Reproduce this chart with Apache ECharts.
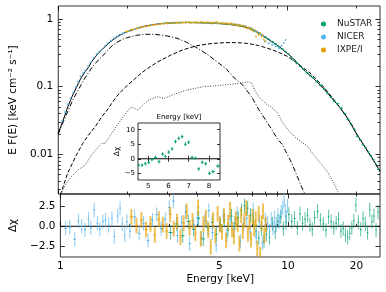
<!DOCTYPE html>
<html><head><meta charset="utf-8">
<script src="https://cdn.jsdelivr.net/npm/echarts@6/dist/echarts.min.js"></script>
<style>html,body{margin:0;padding:0;background:#fff}#c{width:386px;height:292px}</style>
</head><body><div id="c"></div>
<script>
// ---------------- DATA ----------------
const X_MIN = 1, X_MAX = 25.4;
const Y_MIN = 0.00259, Y_MAX = 1.557;
const RES_MIN = -3.9, RES_MAX = 4.1;
const INS_XMIN = 4.5, INS_XMAX = 8.55, INS_YMIN = -7.3, INS_YMAX = 12.3;

const xMajorTicks = [1, 10];
const xMinorTicks = [2, 3, 4, 5, 6, 7, 8, 9, 20];
const xTickLabels = [1, 5, 10, 20];
const yMajorTicks = [0.01, 0.1, 1];
const yMinorTicks = [0.003,0.004,0.005,0.006,0.007,0.008,0.009,0.02,0.03,0.04,0.05,0.06,0.07,0.08,0.09,0.2,0.3,0.4,0.5,0.6,0.7,0.8,0.9];
const resTicks = [-2.5, 0, 2.5];
const insXTicks = [5, 6, 7, 8];
const insYTicks = [-5, 0, 5, 10];

// model components (E keV, E F(E))
const totalModel = [[1.0,0.0205],[1.05,0.032],[1.1,0.05],[1.15,0.072],[1.2,0.097],[1.25,0.13],[1.3,0.16],[1.35,0.19],[1.4,0.235],[1.45,0.275],[1.5,0.315],[1.6,0.39],[1.7,0.47],[1.8,0.54],[1.9,0.6],[2.0,0.65],[2.2,0.725],[2.4,0.785],[2.6,0.825],[2.8,0.852],[3.0,0.87],[3.3,0.882],[3.6,0.888],[4.0,0.885],[4.5,0.875],[5.0,0.86],[5.5,0.84],[6.0,0.81],[6.5,0.765],[7.0,0.70],[7.5,0.62],[8.0,0.54],[8.5,0.47],[9.0,0.415],[9.5,0.36],[10,0.31],[10.5,0.27],[11,0.228],[12,0.168],[13,0.133],[14,0.104],[15,0.08],[16,0.062],[17,0.049],[18,0.0375],[19,0.028],[20,0.0205],[21,0.0158],[22,0.0124],[23,0.0098],[24,0.0078],[25,0.0062],[25.4,0.0057]];
const diskModel = [[1.0,0.02],[1.05,0.03],[1.1,0.043],[1.156,0.063],[1.2,0.08],[1.3,0.13],[1.4,0.19],[1.5,0.25],[1.6,0.31],[1.7,0.39],[1.8,0.45],[1.9,0.5],[2.0,0.53],[2.2,0.575],[2.4,0.594],[2.6,0.595],[2.8,0.58],[3.0,0.56],[3.3,0.52],[3.6,0.46],[4.0,0.38],[4.2,0.345],[4.6,0.28],[5.0,0.225],[5.4,0.185],[5.8,0.14],[6.4,0.105],[7.0,0.07],[7.5,0.046],[8.0,0.033],[8.5,0.024],[9.1,0.0165],[9.5,0.014],[10,0.01],[10.5,0.0072],[11,0.0049],[11.5,0.0034],[12,0.0025]];
const comptModel = [[1.02,0.0025],[1.1,0.0053],[1.2,0.0098],[1.28,0.0145],[1.35,0.019],[1.45,0.0256],[1.55,0.036],[1.65,0.047],[1.71,0.0565],[1.8,0.072],[1.9,0.088],[1.975,0.1],[2.1,0.12],[2.25,0.148],[2.4,0.176],[2.7,0.23],[3.1,0.293],[3.5,0.35],[4.0,0.40],[4.5,0.428],[5.0,0.442],[5.5,0.448],[6.0,0.447],[6.5,0.44],[7.0,0.425],[7.5,0.405],[8.0,0.38],[8.5,0.355],[9.0,0.33],[9.5,0.305],[10,0.28],[11,0.225],[12,0.18],[12.7,0.155],[14,0.11],[15,0.084],[16,0.064],[17,0.049],[18,0.037],[19,0.0278],[20,0.0204],[21,0.0157],[22,0.0123],[23,0.0097],[24,0.0077],[25,0.0061],[25.4,0.0056]];
const reflModel = [[1.03,0.0026],[1.08,0.0037],[1.15,0.0048],[1.23,0.006],[1.31,0.0069],[1.41,0.0103],[1.55,0.0145],[1.6,0.0145],[1.71,0.0204],[1.85,0.03],[2.02,0.045],[2.09,0.05],[2.15,0.048],[2.23,0.045],[2.38,0.057],[2.5,0.064],[2.7,0.071],[2.9,0.067],[3.2,0.077],[3.63,0.089],[4.3,0.1],[5.0,0.104],[5.9,0.11],[6.5,0.115],[6.8,0.118],[7.0,0.112],[7.2,0.09],[7.5,0.071],[8.0,0.057],[8.5,0.05],[9.13,0.04],[9.45,0.031],[10.1,0.0228],[10.8,0.018],[12.3,0.013],[13,0.01],[14,0.0073],[15,0.0055],[16,0.0037],[16.8,0.0026]];

// spectra (main panel)
const nicerE = [1.04,1.07,1.10,1.13,1.16,1.19,1.22,1.25,1.28,1.31,1.35,1.39,1.43,1.47,1.51,1.55,1.60,1.65,1.70,1.75,1.80,1.86,1.92,1.98,2.05,2.15,2.25,2.4,2.55,2.7,2.9,3.1,3.35,3.6,3.9,4.2,4.5,4.9,5.3,5.7,6.1,6.5,6.9,7.3,7.7,8.0,8.3,8.6,8.9,9.2,9.45,9.65,9.85];
const nicerF = [0.031,0.042,0.055,0.067,0.081,0.098,0.118,0.142,0.160,0.172,0.200,0.232,0.268,0.302,0.330,0.352,0.400,0.445,0.480,0.520,0.553,0.590,0.615,0.640,0.668,0.705,0.738,0.780,0.815,0.840,0.862,0.878,0.888,0.890,0.888,0.884,0.878,0.868,0.858,0.845,0.825,0.790,0.735,0.660,0.590,0.470,0.440,0.415,0.395,0.370,0.400,0.445,0.490];
const ixpeE = [2.0,2.1,2.2,2.3,2.4,2.5,2.6,2.7,2.8,2.9,3.0,3.1,3.2,3.3,3.4,3.5,3.6,3.7,3.8,3.9,4.0,4.1,4.2,4.3,4.4,4.5,4.6,4.7,4.8,4.9,5.0,5.1,5.2,5.3,5.4,5.5,5.6,5.7,5.8,5.9,6.0,6.1,6.2,6.3,6.4,6.5,6.6,6.7,6.8,6.9,7.0,7.1,7.2,7.3,7.4,7.5,7.6,7.7,7.8,7.9,8.0];
const ixpeF = [0.655,0.70,0.725,0.76,0.78,0.80,0.82,0.83,0.85,0.855,0.87,0.87,0.88,0.885,0.875,0.89,0.885,0.90,0.885,0.89,0.895,0.88,0.90,0.885,0.875,0.895,0.88,0.87,0.885,0.90,0.87,0.865,0.875,0.855,0.87,0.85,0.84,0.86,0.83,0.84,0.82,0.80,0.815,0.79,0.80,0.76,0.77,0.73,0.745,0.70,0.72,0.66,0.69,0.55,0.64,0.58,0.62,0.55,0.58,0.50,0.47];
const nustarE = [3.0,3.2,3.4,3.6,3.8,4.0,4.25,4.5,4.75,5.0,5.25,5.5,5.75,6.0,6.25,6.5,6.75,7.0,7.25,7.5,7.75,8.0,8.3,8.6,8.9,9.2,9.5,9.8,10.1,10.4,10.7,11.0,11.4,11.8,12.2,12.6,13.0,13.5,14.0,14.5,15.0,15.5,16.0,16.6,17.2,17.8,18.4,19.0,19.6,20.2,20.8,21.4,22.0,22.6,23.2,23.8,24.4,25.0];
const nustarF = [0.87,0.88,0.885,0.89,0.885,0.885,0.88,0.875,0.865,0.86,0.85,0.84,0.825,0.81,0.79,0.765,0.74,0.70,0.66,0.62,0.58,0.54,0.50,0.46,0.425,0.39,0.36,0.33,0.305,0.265,0.245,0.222,0.20,0.18,0.16,0.145,0.135,0.118,0.104,0.092,0.08,0.07,0.061,0.056,0.048,0.040,0.033,0.028,0.0235,0.0185,0.0163,0.0140,0.0125,0.0108,0.0095,0.0083,0.0071,0.0060];
const nicerRelErr = 0.035, ixpeRelErr = 0.04, nustarRelErr = 0.035;

// residuals (bottom panel)
const nicerResE = [1.054,1.10,1.156,1.20,1.24,1.283,1.33,1.36,1.408,1.454,1.49,1.537,1.578,1.63,1.686,1.724,1.788,1.83,1.87,1.92,1.96,2.02,2.12,2.22,2.32,2.43,2.54,2.65,2.77,2.89,3.01,3.14,3.27,3.41,3.55,3.7,3.85,4.0,4.16,4.32,4.49,4.66,4.84,5.02,5.2,5.39,5.58,5.78,5.98,6.18,6.39,6.6,6.82,7.04,7.26,7.49,7.72,7.95,8.15,8.3,8.45,8.6,8.75,8.9,9.05,9.2,9.35,9.5,9.62,9.74,9.86,9.97];
const nicerResV = [-0.25,-0.1,-1.65,0.67,0.0,-0.47,0.9,-0.2,2.07,0.38,-0.38,0.59,0.8,0.1,1.0,-1.3,1.3,2.3,0.3,-1.1,0.6,-0.6,1.2,-0.9,0.4,-1.8,0.8,1.5,-0.3,0.9,2.4,3.2,-1.2,0.5,1.8,-2.2,0.2,1.1,-1.5,0.7,2.0,-0.8,-2.4,0.4,1.3,-1.1,0.9,-0.4,1.6,-1.9,0.3,1.0,-0.7,2.1,-1.4,0.6,-2.1,0.8,0.4,-0.6,0.9,-0.2,1.1,0.3,1.4,0.6,1.8,2.3,3.3,2.0,1.1,2.6];
const ixpeResE = [2.05,2.16,2.27,2.38,2.49,2.6,2.71,2.82,2.93,3.04,3.15,3.26,3.37,3.48,3.59,3.7,3.81,3.92,4.03,4.14,4.25,4.36,4.47,4.58,4.69,4.8,4.91,5.02,5.13,5.24,5.35,5.46,5.57,5.68,5.79,5.9,6.01,6.12,6.23,6.34,6.45,6.56,6.67,6.78,6.89,7.0,7.11,7.22,7.33,7.44,7.55,7.66,7.77,7.88,7.99];
const ixpeResV = [1.2,0.1,0.8,-0.4,0.3,-1.1,0.9,0.2,-0.6,1.5,-0.3,0.6,-1.4,0.4,1.9,-0.2,0.7,-0.9,2.4,-1.6,0.3,1.1,-0.5,-2.6,0.8,-1.2,1.6,0.2,-0.7,1.3,-1.8,0.5,2.1,-0.4,-1.3,0.9,0.3,-2.2,1.4,-0.6,0.8,2.3,-1.0,0.5,-1.7,1.2,-0.3,0.9,-2.8,1.6,-3.6,0.4,1.9,-1.2,0.2];
const nustarResE = [3.05,3.25,3.45,3.65,3.85,4.05,4.25,4.45,4.65,4.85,5.05,5.25,5.45,5.65,5.85,6.05,6.25,6.45,6.65,6.85,7.05,7.25,7.45,7.65,7.85,8.05,8.3,8.55,8.8,9.05,9.3,9.55,9.8,10.1,10.4,10.7,11.0,11.3,11.6,11.9,12.2,12.5,12.8,13.1,13.5,13.9,14.3,14.7,15.1,15.5,15.9,16.3,16.7,17.1,17.5,17.9,18.3,18.7,19.1,19.5,19.9,20.4,20.9,21.4,21.9,22.4,22.9,23.4,23.9,24.4,24.9];
const nustarResV = [-0.8,0.3,-1.2,0.6,-0.4,1.0,-1.6,-0.2,0.5,-1.0,0.2,0.8,-0.5,1.3,0.4,1.1,2.0,2.6,2.3,1.4,0.8,-0.6,-1.5,-0.3,-1.9,-1.0,-1.4,0.3,-0.7,0.6,1.2,-0.3,0.5,1.5,0.6,1.0,-0.2,1.6,0.4,0.9,1.4,0.2,-0.4,1.1,1.9,0.8,0.3,-0.5,1.2,0.6,-0.2,0.4,0.9,-0.6,-0.3,-1.1,-1.4,-0.9,-0.2,0.7,2.7,0.5,-0.4,1.0,0.3,-0.8,2.1,0.6,1.3,-0.5,1.8];
const nicerResErr = 0.9, ixpeResErr = 1.0, nustarResErr = 0.9;

// inset residuals (NuSTAR, no line)
const insetE = [4.53,4.70,4.86,5.03,5.19,5.36,5.54,5.72,5.85,6.02,6.18,6.35,6.51,6.68,6.84,7.00,7.17,7.33,7.50,7.67,7.84,8.03,8.20,8.45];
const insetV = [-2.2,-2.2,-1.7,-1.3,-0.3,0.45,-1.0,1.6,0.8,2.3,3.4,5.9,7.0,7.6,5.0,5.7,0.45,0.2,-3.5,-1.2,-1.7,-5.0,-4.4,-2.5];
const insetErr = 0.6;

// ---------------- STYLE ----------------
const C_NUSTAR = '#009E73', C_NICER = '#56B4E9', C_IXPE = '#E69F00';
const FONT = 'DejaVu Sans';

function halfSpan(E, i, f) {
  const p = i > 0 ? E[i-1] : null, n = i < E.length-1 ? E[i+1] : null;
  const dl = p !== null ? E[i]-p : n-E[i];
  const dr = n !== null ? n-E[i] : E[i]-p;
  return [E[i]-dl*f, E[i]+dr*f];
}
function relData(E, F, r, f) {
  return E.map((e,i)=>{ const h = halfSpan(E,i,f); return [e, F[i], h[0], h[1], F[i]*(1-r), F[i]*(1+r)]; });
}
function absData(E, V, err, f) {
  return E.map((e,i)=>{ const h = halfSpan(E,i,f); return [e, V[i], h[0], h[1], V[i]-err, V[i]+err]; });
}
function errRender(color, vOp, vW, hW) {
  return function(params, api) {
    const x = api.value(0), y = api.value(1);
    const c = api.coord([x, y]);
    const a = api.coord([api.value(2), y]), b = api.coord([api.value(3), y]);
    const lo = api.coord([x, api.value(4)]), hi = api.coord([x, api.value(5)]);
    return {type:'group', children:[
      {type:'line', shape:{x1:c[0], y1:lo[1], x2:c[0], y2:hi[1]}, style:{stroke:color, lineWidth:vW, opacity:vOp}},
      {type:'line', shape:{x1:a[0], y1:c[1], x2:b[0], y2:c[1]}, style:{stroke:color, lineWidth:hW}}
    ]};
  };
}
function errSeries(name, color, data, xi, yi, vOp, vW, hW, z) {
  return {type:'custom', name, coordinateSystem:'cartesian2d', xAxisIndex:xi, yAxisIndex:yi,
    renderItem: errRender(color, vOp, vW, hW), data, clip:true, itemStyle:{color}, z: z||3,
    encode:{x:0, y:1}, silent:true};
}
function num(v){ return Number(Number(v).toPrecision(6)); }
const lblStyle = {color:'#000', fontFamily:FONT, fontSize:10.5};
function tickAx(base, ticks, len, labels, labelOpts) {
  return Object.assign({
    axisLine:{show:false}, splitLine:{show:false}, minorTick:{show:false},
    axisTick:{show:true, inside:true, length:len, customValues:ticks, lineStyle:{color:'#000', width:0.8}},
    axisLabel: labels ? Object.assign({show:true, customValues:labels}, labelOpts) : {show:false}
  }, base);
}
const logX = (g, pos, ticks, len, labels, extra) => tickAx(Object.assign({type:'log', logBase:10, gridIndex:g, position:pos, min:X_MIN, max:X_MAX}, extra||{}), ticks, len, labels,
  Object.assign({}, lblStyle, {margin:4, formatter: v => String(num(v))}));

const xAxes = [
  logX(0,'bottom',xMajorTicks,4.5), logX(0,'bottom',xMinorTicks,2.5), logX(0,'top',xMajorTicks,4.5), logX(0,'top',xMinorTicks,2.5),
  logX(1,'bottom',xMajorTicks,4.5,xTickLabels,{name:'Energy [keV]', nameLocation:'middle', nameGap:17, nameTextStyle:{fontFamily:FONT, fontSize:10.5, color:'#000'}}),
  logX(1,'bottom',xMinorTicks,2.5), logX(1,'top',xMajorTicks,4.5), logX(1,'top',xMinorTicks,2.5),
  tickAx({type:'value', gridIndex:2, position:'bottom', min:INS_XMIN, max:INS_XMAX, z:12}, insXTicks, 3, insXTicks,
    {color:'#000', fontFamily:FONT, fontSize:7, margin:3, formatter: v => String(num(v))}),
  tickAx({type:'value', gridIndex:2, position:'top', min:INS_XMIN, max:INS_XMAX, z:12, name:'Energy [keV]', nameLocation:'middle', nameGap:2.5,
    nameTextStyle:{fontFamily:FONT, fontSize:7, color:'#000'}}, insXTicks, 3)
];
const logY = (pos, ticks, len, labels, extra) => tickAx(Object.assign({type:'log', logBase:10, gridIndex:0, position:pos, min:Y_MIN, max:Y_MAX}, extra||{}), ticks, len, labels,
  Object.assign({}, lblStyle, {margin:5, formatter: v => String(num(v))}));
const resFmt = v => { v = num(v); return (v < 0 ? '\u2212' : '') + Math.abs(v).toFixed(1); };
const insFmt = v => { v = num(v); return (v < 0 ? '\u2212' : '') + String(Math.abs(v)); };
const yAxes = [
  logY('left', yMajorTicks, 4.5, yMajorTicks, {name:'E F(E) [keV cm\u207B\u00B2 s\u207B\u00B9]', nameLocation:'middle', nameGap:33, nameRotate:90,
    nameTextStyle:{fontFamily:FONT, fontSize:10.5, color:'#000'}}),
  logY('left', yMinorTicks, 2.5), logY('right', yMajorTicks, 4.5), logY('right', yMinorTicks, 2.5),
  tickAx({type:'value', gridIndex:1, position:'left', min:RES_MIN, max:RES_MAX, name:'\u0394\u03C7', nameLocation:'middle', nameGap:33, nameRotate:90,
    nameTextStyle:{fontFamily:FONT, fontSize:10.5, color:'#000'}}, resTicks, 4.5, resTicks, Object.assign({}, lblStyle, {margin:5, formatter:resFmt})),
  tickAx({type:'value', gridIndex:1, position:'right', min:RES_MIN, max:RES_MAX}, resTicks, 4.5),
  tickAx({type:'value', gridIndex:2, position:'left', min:INS_YMIN, max:INS_YMAX, z:12, name:'\u0394\u03C7', nameLocation:'middle', nameGap:16, nameRotate:90,
    nameTextStyle:{fontFamily:FONT, fontSize:7.5, color:'#000'}}, insYTicks, 3, insYTicks, {color:'#000', fontFamily:FONT, fontSize:7, margin:3, formatter:insFmt}),
  tickAx({type:'value', gridIndex:2, position:'right', min:INS_YMIN, max:INS_YMAX, z:12}, insYTicks, 3)
];

function modelLine(name, data, type, color) {
  return {type:'line', name, xAxisIndex:0, yAxisIndex:0, data, showSymbol:false, symbol:'none', silent:true,
    lineStyle:{color, width:1, type}, z:2, clip:true};
}

const series = [
  modelLine('total', totalModel, 'solid', '#000'),
  modelLine('disk', diskModel, [5,2,1,2], '#000'),
  modelLine('compt', comptModel, [4,2], '#000'),
  modelLine('refl', reflModel, [1,1.5], '#444'),
  errSeries('NuSTAR', C_NUSTAR, relData(nustarE, nustarF, nustarRelErr, 0.45), 0, 0, 0.85, 1, 1),
  errSeries('NICER', C_NICER, relData(nicerE, nicerF, nicerRelErr, 0.35), 0, 0, 0.85, 1, 1),
  errSeries('IXPE/I', C_IXPE, relData(ixpeE, ixpeF, ixpeRelErr, 0.45), 0, 0, 0.85, 1, 1),
  // residual panel
  {type:'line', xAxisIndex:4, yAxisIndex:4, data:[[X_MIN,0],[X_MAX,0]], showSymbol:false, symbol:'none', silent:true, lineStyle:{color:'#000', width:1}, z:2},
  errSeries('NuSTAR', C_NUSTAR, absData(nustarResE, nustarResV, nustarResErr, 0.3), 4, 4, 0.65, 1, 1),
  errSeries('NICER', C_NICER, absData(nicerResE, nicerResV, nicerResErr, 0.3), 4, 4, 0.7, 1, 1),
  errSeries('IXPE/I', C_IXPE, absData(ixpeResE, ixpeResV, ixpeResErr, 0.3), 4, 4, 0.65, 2, 1),
  // inset
  {type:'line', xAxisIndex:8, yAxisIndex:6, data:[[INS_XMIN,0],[INS_XMAX,0]], showSymbol:false, symbol:'none', silent:true, lineStyle:{color:'#000', width:1}, z:12},
  errSeries('NuSTAR', C_NUSTAR, absData(insetE, insetV, insetErr, 0.4), 8, 6, 1, 1, 1, 13)
];

const option = {
  animation:false,
  backgroundColor:'#fff',
  textStyle:{fontFamily:FONT},
  grid:[
    {left:52, top:6, width:328, height:188, show:true, borderColor:'#000', borderWidth:0.8, backgroundColor:'transparent'},
    {left:52, top:194, width:328, height:63, show:true, borderColor:'#000', borderWidth:0.8, backgroundColor:'transparent'},
    {left:138, top:123, width:82, height:57, show:true, borderColor:'#000', borderWidth:0.8, backgroundColor:'#fff', z:10}
  ],
  legend:{
    orient:'vertical', left:316, top:13, itemWidth:5, itemHeight:5, itemGap:1,
    textStyle:{fontFamily:FONT, fontSize:9, color:'#222', lineHeight:12, padding:[0,0,0,6]},
    data:[
      {name:'NuSTAR', icon:'circle', itemStyle:{color:C_NUSTAR}},
      {name:'NICER', icon:'circle', itemStyle:{color:C_NICER}},
      {name:'IXPE/I', icon:'circle', itemStyle:{color:C_IXPE}}
    ],
    selectedMode:false
  },
  xAxis: xAxes,
  yAxis: yAxes,
  series
};
const chart = echarts.init(document.getElementById('c'), null, {renderer:'canvas'});
chart.setOption(option);
</script></body></html>
